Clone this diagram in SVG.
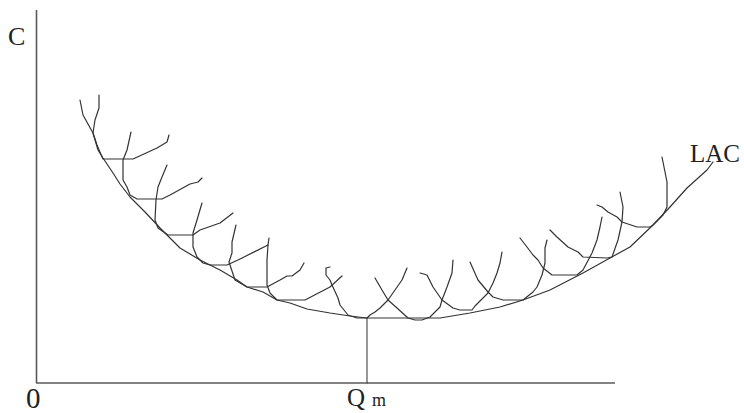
<svg xmlns="http://www.w3.org/2000/svg" width="744" height="413" viewBox="0 0 744 413">
<style>
.ax{fill:none;stroke:#5a5a5a;stroke-width:1.6}
.c{fill:none;stroke:#333;stroke-width:1.2;stroke-linejoin:round;stroke-linecap:round}
.t{font-family:"Liberation Serif","Times New Roman",serif;fill:#222}
</style>
<rect width="744" height="413" fill="#fff"/>
<g id="axes">
<line class="ax" x1="36.5" y1="10" x2="36.5" y2="383"/>
<line class="ax" x1="36" y1="383" x2="615" y2="383"/>
<line class="c" x1="367" y1="318" x2="367" y2="383" style="stroke-width:1"/>
</g>
<g id="labels">
<text class="t" x="8" y="45" font-size="26">C</text>
<text class="t" x="26" y="408" font-size="29">0</text>
<text class="t" x="347" y="406" font-size="25">Q</text>
<text class="t" x="372" y="406" font-size="18">m</text>
<text class="t" x="690" y="162" font-size="25">LAC</text>
</g>
<g id="connectors">
<polyline id="LAC" class="c" points="80,100 83,115 93,133 98,150 103,158 113,173 120,184 130,197 145,212 160,228 180,248 200,260 220,270 237,280 247,287 263,292 277,300 290,303 307,309 330,313 350,316 367,318 440,318 470,313 500,307 523,300 550,290 583,273 610,258 630,247 653,225 670,207 687,188 707,170 713,162"/>
<polyline id="sac1" class="c" points="99,95 99,108 95,120 93,133 97,145 102,157 103,159 133,159 157,148 167,142 169,135"/>
<polyline id="sac2" class="c" points="131,132 127,150 123,160 123,180 127,187 130,195 137,199 162,199 170,195 190,184 198,182 202,178"/>
<polyline id="sac3" class="c" points="167,165 162,177 158,187 156,200 155,220 158,228 168,235 193,235 200,230 220,223 233,213"/>
<polyline id="sac4" class="c" points="202,203 197,220 193,233 193,247 197,257 203,263 210,265 227,265 238,260 268,245 269,238"/>
<polyline id="sac5" class="c" points="236,225 232,242 232,253 229,262 235,280 247,287 267,287 280,280 287,276 292,276 300,270 304,263"/>
<polyline id="sac6" class="c" points="268,245 267,260 267,285 270,293 277,300 305,300 330,287 342,276"/>
<polyline id="sac7" class="c" points="330,267 326,268 326,275 330,280 332,285 338,298 340,305 348,315 357,318 367,318 370,315 375,312 380,308 388,300 395,290 402,280 407,268"/>
<polyline id="sac8" class="c" points="375,278 382,290 388,300 397,308 408,318 415,320 422,320 430,317 440,307 442,300 447,287 452,273 453,260"/>
<polyline id="sac9" class="c" points="420,273 427,275 433,287 442,300 453,308 460,310 472,310 475,306 488,293 493,283 497,273 500,263 502,252"/>
<polyline id="sac10" class="c" points="470,262 478,280 488,292 493,297 503,300 523,300 533,292 537,287 542,275 545,263 545,248 547,240"/>
<polyline id="sac11" class="c" points="520,238 527,247 533,255 538,260 543,268 552,275 577,275 583,270 592,253 597,240 600,227 602,217"/>
<polyline id="sac12" class="c" points="550,230 557,237 568,247 578,252 583,257 607,258 612,257 618,240 622,222 623,207 620,192"/>
<polyline id="sac13" class="c" points="597,205 602,207 608,212 617,217 622,222 637,227 650,227 653,225 663,215 667,207 667,182 662,157"/>
</g>
</svg>
